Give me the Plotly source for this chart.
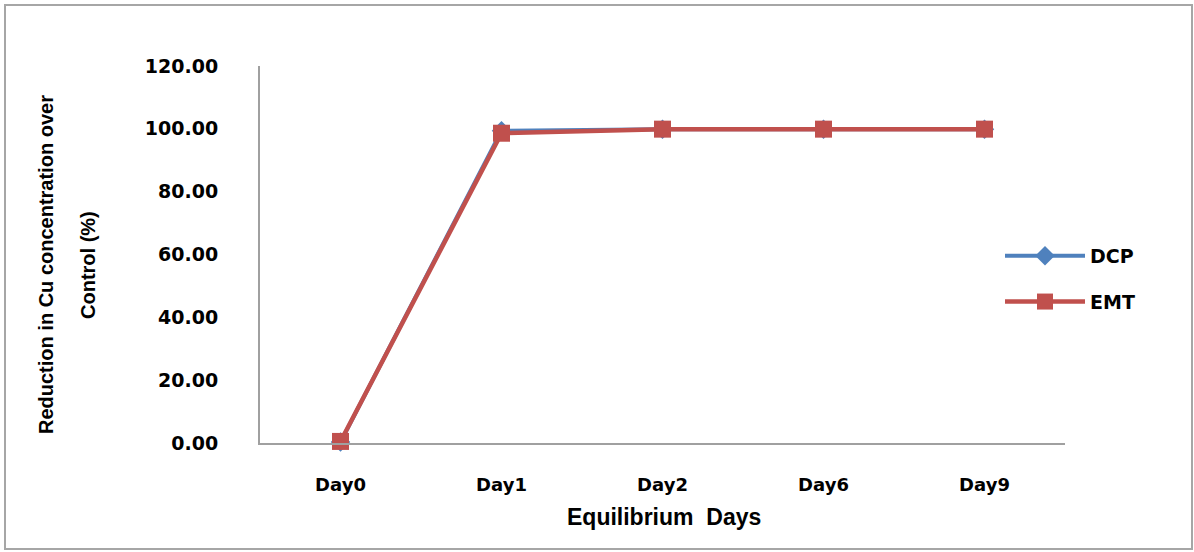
import plotly.graph_objects as go

# Equilibrium sampling days and the reduction (%) in Cu concentration over control
days = ["Day0", "Day1", "Day2", "Day6", "Day9"]
dcp = [0.3, 99.4, 99.9, 99.9, 99.9]
emt = [0.5, 98.6, 99.9, 99.9, 99.9]
y_ticks = [0, 20, 40, 60, 80, 100, 120]

W, H = 1194, 552
L, R, T, B = 260, 129, 66, 109

fig = go.Figure()
fig.add_trace(go.Scatter(
    x=days, y=dcp, name="DCP", mode="lines+markers", legendgroup="a",
    line=dict(color="#4F81BD", width=4),
    marker=dict(symbol="diamond", size=15, color="#4F81BD"),
    cliponaxis=False,
))
fig.add_trace(go.Scatter(
    x=days, y=emt, name="EMT", mode="lines+markers", legendgroup="b",
    line=dict(color="#C0504D", width=4.5),
    marker=dict(symbol="square", size=17, color="#C0504D"),
    cliponaxis=False,
))

pw, ph = W - L - R, H - T - B


def px_x(p):
    return (p - L) / pw


def px_y(p):
    return (H - B - p) / ph


# outer frame around the whole chart
fig.add_shape(type="rect", xref="paper", yref="paper",
              x0=px_x(5), x1=px_x(1192), y0=px_y(549), y1=px_y(5),
              line=dict(color="#A6A6A6", width=2), layer="below")

title_font = dict(family="Liberation Sans, Arial", size=20, color="#000", weight="bold")
for text, xp in [("Reduction in Cu concentration over", 46), ("Control (%)", 88)]:
    fig.add_annotation(text=text, xref="paper", yref="paper",
                       x=px_x(xp), y=px_y(265), textangle=-90,
                       showarrow=False, font=title_font,
                       xanchor="center", yanchor="middle")

fig.add_annotation(text="Equilibrium  Days", xref="paper", yref="paper",
                   x=px_x(664), y=px_y(517), showarrow=False,
                   font=dict(family="Liberation Sans, Arial", size=23, color="#000", weight="bold"),
                   xanchor="center", yanchor="middle")

tick_font = dict(family="DejaVu Sans", size=18, color="#000", weight="bold")
fig.update_xaxes(
    type="category", range=[-0.5, 4.5], showline=True, linecolor="#A0A0A0",
    linewidth=2, ticks="", showgrid=False, zeroline=False,
    tickfont=tick_font, ticklabelstandoff=24,
)
fig.update_yaxes(
    range=[0, 120], tickvals=y_ticks, ticktext=[f"{v:.2f}" for v in y_ticks],
    showline=True, linecolor="#A0A0A0", linewidth=2, ticks="",
    showgrid=False, zeroline=False,
    tickfont=dict(family="DejaVu Sans", size=19, color="#000", weight="bold"),
    ticklabelstandoff=36,
)

fig.update_layout(
    width=W, height=H,
    margin=dict(l=L, r=R, t=T, b=B),
    paper_bgcolor="white", plot_bgcolor="white",
    showlegend=True,
    legend=dict(
        x=px_x(1000), y=px_y(237), xanchor="left", yanchor="top",
        font=dict(family="DejaVu Sans", size=19, color="#000", weight="bold"),
        itemwidth=80, tracegroupgap=18, traceorder="grouped",
        bgcolor="rgba(0,0,0,0)",
    ),
)

fig.write_html("out.html")
